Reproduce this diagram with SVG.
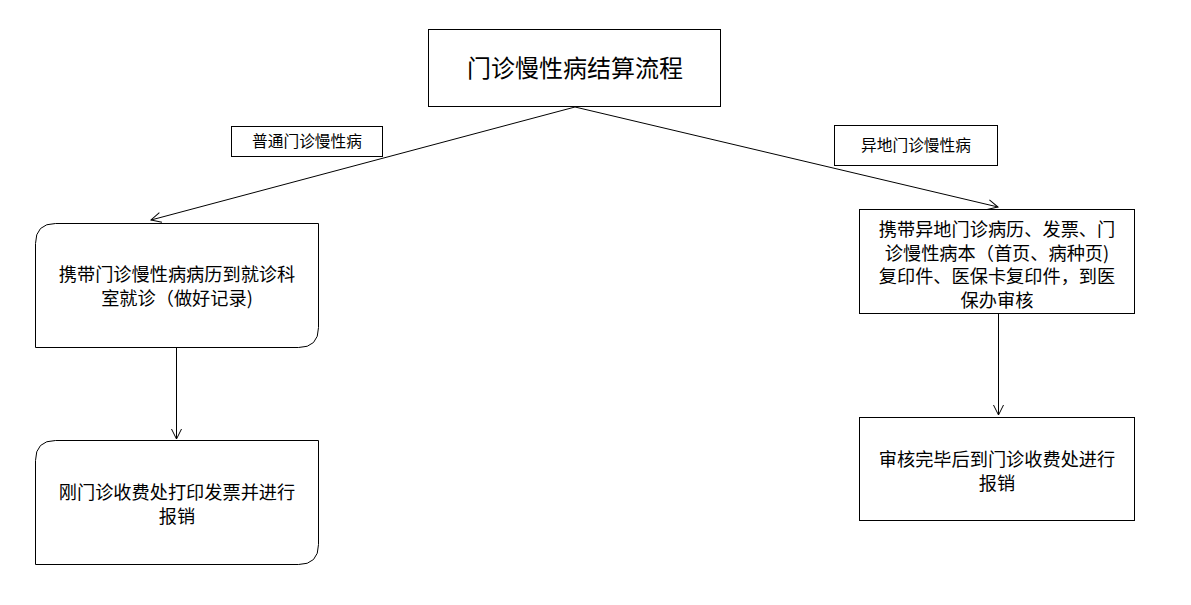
<svg xmlns="http://www.w3.org/2000/svg" width="1191" height="605" viewBox="0 0 1191 605">
<style>
.box{fill:#fff;stroke:#000;stroke-width:1}
.t{font-family:"Noto Sans CJK SC","Noto Sans",sans-serif;fill:#000;text-anchor:middle}
.n{font-size:18.2px}
.lbl{font-size:15.7px}
.ttl{font-size:24px}
.c{fill:none;stroke:#000;stroke-width:1;marker-end:url(#a)}
</style>
<defs>
<marker id="a" viewBox="0 0 12 12" refX="11" refY="6" markerWidth="12" markerHeight="12" markerUnits="userSpaceOnUse" orient="auto">
<path d="M1,1 L11,6 L1,11" fill="none" stroke="#000" stroke-width="1"/>
</marker>
</defs>
<rect width="1191" height="605" fill="#fff"/>
<g id="connectors">
<line class="c" x1="575" y1="107" x2="151" y2="220"/>
<line class="c" x1="575" y1="107" x2="998" y2="207"/>
<line class="c" x1="176.5" y1="347" x2="176.5" y2="439"/>
<line class="c" x1="998.5" y1="313" x2="998.5" y2="415"/>
</g>
<g id="title">
<rect class="box" x="428.5" y="29.5" width="292" height="77"/>
<text class="t ttl" x="575" y="77">门诊慢性病结算流程</text>
</g>
<g id="label-left">
<rect class="box" x="231.5" y="126.5" width="151" height="30"/>
<text class="t lbl" x="307" y="147">普通门诊慢性病</text>
</g>
<g id="label-right">
<rect class="box" x="834.5" y="125.5" width="163" height="40"/>
<text class="t lbl" x="916" y="151">异地门诊慢性病</text>
</g>
<g id="left1">
<path class="box" d="M55.5,223.5 H318.5 V327.5 Q318.5,347.5 298.5,347.5 H35.5 V243.5 Q35.5,223.5 55.5,223.5 Z"/>
<text class="t n" x="177" y="281">携带门诊慢性病病历到就诊科</text>
<text class="t n" x="177" y="305">室就诊（做好记录)</text>
</g>
<g id="left2">
<path class="box" d="M55.5,440.5 H318.5 V544.5 Q318.5,564.5 298.5,564.5 H35.5 V460.5 Q35.5,440.5 55.5,440.5 Z"/>
<text class="t n" x="177" y="499">刚门诊收费处打印发票并进行</text>
<text class="t n" x="177" y="523">报销</text>
</g>
<g id="right1">
<rect class="box" x="859.5" y="209.5" width="275" height="104"/>
<text class="t n" x="997" y="236">携带异地门诊病历、发票、门</text>
<text class="t n" x="997" y="259.5">诊慢性病本（首页、病种页)</text>
<text class="t n" x="997" y="283">复印件、医保卡复印件，到医</text>
<text class="t n" x="997" y="306.5">保办审核</text>
</g>
<g id="right2">
<rect class="box" x="859.5" y="417.5" width="275" height="103"/>
<text class="t n" x="997" y="466">审核完毕后到门诊收费处进行</text>
<text class="t n" x="997" y="490">报销</text>
</g>
</svg>
